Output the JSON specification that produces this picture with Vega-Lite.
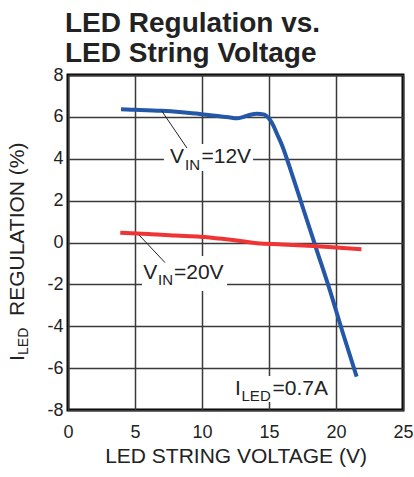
{
  "$schema": "https://vega.github.io/schema/vega-lite/v6.json",
  "autosize": {"type": "none"},
  "width": 335,
  "height": 335,
  "padding": {"left": 68, "top": 75, "right": 11, "bottom": 67},
  "background": "white",
  "config": {
    "font": "Liberation Sans",
    "view": {"stroke": "black", "strokeWidth": 3},
    "axis": {"grid": true, "gridColor": "#3a3a3a", "gridWidth": 1.5, "gridOpacity": 1, "domain": false, "ticks": false, "tickSize": 0, "labelFont": "Liberation Sans", "labelFontSize": 18, "labelColor": "#222", "titleFont": "Liberation Sans", "titleFontSize": 21, "titleFontWeight": "normal", "titleColor": "#222"}
  },
  "title": {
    "text": ["LED Regulation vs.", "LED String Voltage"],
    "anchor": "start",
    "frame": "group",
    "dx": -3,
    "dy": 4,
    "offset": 2,
    "font": "Liberation Sans",
    "fontSize": 28,
    "fontWeight": "bold",
    "lineHeight": 30,
    "color": "#222"
  },
  "datasets": {
    "curves": [
      {"series": "12V", "v": 3.96, "reg": 6.36},
      {"series": "12V", "v": 5.0, "reg": 6.34},
      {"series": "12V", "v": 7.0, "reg": 6.29},
      {"series": "12V", "v": 8.5, "reg": 6.22},
      {"series": "12V", "v": 9.85, "reg": 6.14},
      {"series": "12V", "v": 11.0, "reg": 6.05},
      {"series": "12V", "v": 12.0, "reg": 5.98},
      {"series": "12V", "v": 12.6, "reg": 5.93},
      {"series": "12V", "v": 13.1, "reg": 6.0},
      {"series": "12V", "v": 13.6, "reg": 6.1},
      {"series": "12V", "v": 14.1, "reg": 6.15},
      {"series": "12V", "v": 14.6, "reg": 6.12},
      {"series": "12V", "v": 15.0, "reg": 5.92},
      {"series": "12V", "v": 15.3, "reg": 5.62},
      {"series": "12V", "v": 15.6, "reg": 5.18},
      {"series": "12V", "v": 16.0, "reg": 4.6},
      {"series": "12V", "v": 16.5, "reg": 3.68},
      {"series": "12V", "v": 16.8, "reg": 3.1},
      {"series": "12V", "v": 17.56, "reg": 1.6},
      {"series": "12V", "v": 18.56, "reg": -0.36},
      {"series": "12V", "v": 19.55, "reg": -2.3},
      {"series": "12V", "v": 20.5, "reg": -4.3},
      {"series": "12V", "v": 21.54, "reg": -6.41},
      {"series": "20V", "v": 3.9, "reg": 0.47},
      {"series": "20V", "v": 6.0, "reg": 0.41},
      {"series": "20V", "v": 8.0, "reg": 0.33},
      {"series": "20V", "v": 9.85, "reg": 0.28},
      {"series": "20V", "v": 11.5, "reg": 0.18},
      {"series": "20V", "v": 12.3, "reg": 0.12},
      {"series": "20V", "v": 13.0, "reg": 0.06},
      {"series": "20V", "v": 14.1, "reg": -0.04},
      {"series": "20V", "v": 16.0, "reg": -0.09},
      {"series": "20V", "v": 18.3, "reg": -0.17},
      {"series": "20V", "v": 20.0, "reg": -0.24},
      {"series": "20V", "v": 21.9, "reg": -0.32}
    ],
    "boxes": [
      {"x1": 7.16, "x2": 13.81, "y1": 4.7, "y2": 3.41},
      {"x1": 5.52, "x2": 11.87, "y1": -0.64, "y2": -2.32},
      {"x1": 12.39, "x2": 19.55, "y1": -6.38, "y2": -7.62}
    ],
    "leaders": [
      {"x1": 6.99, "y1": 6.29, "x2": 8.88, "y2": 4.51},
      {"x1": 5.3, "y1": 0.36, "x2": 7.24, "y2": -0.96}
    ],
    "mainText": [
      {"label": "V", "x": 7.61, "y": 3.8},
      {"label": "=12V", "x": 9.96, "y": 3.8},
      {"label": "V", "x": 5.62, "y": -1.76},
      {"label": "=20V", "x": 7.91, "y": -1.76},
      {"label": "I", "x": 12.46, "y": -7.28},
      {"label": "=0.7A", "x": 15.26, "y": -7.28}
    ],
    "subText": [
      {"label": "IN", "x": 8.73, "y": 3.46},
      {"label": "IN", "x": 6.72, "y": -2.03},
      {"label": "LED", "x": 12.95, "y": -7.57}
    ],
    "yTitleMain": [
      {"label": "I", "x": -3.32, "y": -5.66},
      {"label": "REGULATION (%)", "x": -3.32, "y": -3.51}
    ],
    "yTitleSub": [
      {"label": "LED", "x": -2.95, "y": -5.37}
    ]
  },
  "layer": [
    {
      "data": {"name": "curves"},
      "mark": {"type": "line", "strokeWidth": 4, "clip": false, "interpolate": "monotone"},
      "encoding": {
        "x": {"field": "v", "type": "quantitative", "scale": {"domain": [0, 25], "nice": false, "zero": false},
              "axis": {"values": [0, 5, 10, 15, 20, 25], "title": "LED STRING VOLTAGE (V)", "labelPadding": 13, "titlePadding": 4, "labelFlush": false}},
        "y": {"field": "reg", "type": "quantitative", "scale": {"domain": [-8, 8], "nice": false, "zero": false},
              "axis": {"values": [-8, -6, -4, -2, 0, 2, 4, 6, 8], "title": null, "labelPadding": 5, "labelFlush": false, "labelExpr": "'' + datum.value"}},
        "color": {"field": "series", "type": "nominal", "scale": {"domain": ["12V", "20V"], "range": ["#2457a8", "#ee3434"]}, "legend": null},
        "order": {"field": "v", "type": "quantitative"}
      }
    },
    {
      "data": {"name": "boxes"},
      "mark": {"type": "rect", "fill": "white", "stroke": null},
      "encoding": {
        "x": {"field": "x1", "type": "quantitative"},
        "x2": {"field": "x2"},
        "y": {"field": "y1", "type": "quantitative"},
        "y2": {"field": "y2"}
      }
    },
    {
      "data": {"name": "leaders"},
      "mark": {"type": "rule", "color": "#222", "strokeWidth": 1},
      "encoding": {
        "x": {"field": "x1", "type": "quantitative"},
        "x2": {"field": "x2"},
        "y": {"field": "y1", "type": "quantitative"},
        "y2": {"field": "y2"}
      }
    },
    {
      "data": {"name": "mainText"},
      "mark": {"type": "text", "align": "left", "baseline": "alphabetic", "fontSize": 21, "font": "Liberation Sans", "color": "#222"},
      "encoding": {
        "x": {"field": "x", "type": "quantitative"},
        "y": {"field": "y", "type": "quantitative"},
        "text": {"field": "label"}
      }
    },
    {
      "data": {"name": "subText"},
      "mark": {"type": "text", "align": "left", "baseline": "alphabetic", "fontSize": 15, "font": "Liberation Sans", "color": "#222"},
      "encoding": {
        "x": {"field": "x", "type": "quantitative"},
        "y": {"field": "y", "type": "quantitative"},
        "text": {"field": "label"}
      }
    },
    {
      "data": {"name": "yTitleMain"},
      "mark": {"type": "text", "align": "left", "baseline": "alphabetic", "angle": 270, "fontSize": 21, "font": "Liberation Sans", "color": "#222", "clip": false},
      "encoding": {
        "x": {"field": "x", "type": "quantitative"},
        "y": {"field": "y", "type": "quantitative"},
        "text": {"field": "label"}
      }
    },
    {
      "data": {"name": "yTitleSub"},
      "mark": {"type": "text", "align": "left", "baseline": "alphabetic", "angle": 270, "fontSize": 14, "font": "Liberation Sans", "color": "#222", "clip": false},
      "encoding": {
        "x": {"field": "x", "type": "quantitative"},
        "y": {"field": "y", "type": "quantitative"},
        "text": {"field": "label"}
      }
    }
  ]
}
